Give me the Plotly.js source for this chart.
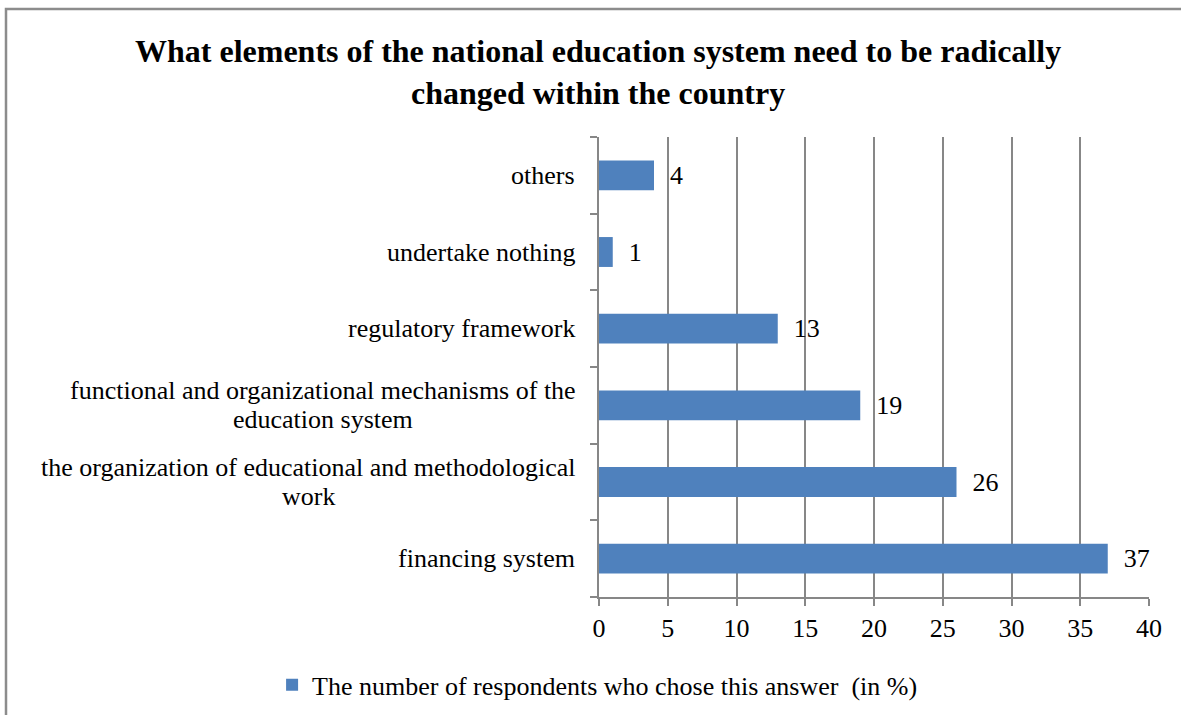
<!DOCTYPE html>
<html>
<head>
<meta charset="utf-8">
<script src="https://cdn.plot.ly/plotly-3.0.1.min.js"></script>
<style>html,body{margin:0;padding:0;background:#fff;}#chart{width:1181px;height:715px;}</style>
</head>
<body>
<div id="chart"></div>
<script>
const categories = [
  "financing system",
  "the organization of educational and methodological<br>work",
  "functional and organizational mechanisms of the<br>education system",
  "regulatory framework",
  "undertake nothing",
  "others"
];
const values = [37, 26, 19, 13, 1, 4];
const seriesName = "The number of respondents who chose this answer  (in %)";
const xTicks = [0, 5, 10, 15, 20, 25, 30, 35, 40];
const chartTitle = "What elements of the national education system need to be radically<br>changed within the country";

const FONT = "'Liberation Serif', 'Times New Roman', serif";
const GRID = "#878787";
const FS = 26;
const LINE = 29;

const trace = {
  type: "bar",
  orientation: "h",
  y: categories,
  x: values,
  name: seriesName,
  marker: {color: "#4f81bd"},
  text: values.map(v => "\u2002" + v),
  textposition: "outside",
  textfont: {family: FONT, size: FS, color: "#000"},
  cliponaxis: false,
  constraintext: "none",
  hoverinfo: "none",
  showlegend: true
};

const annotations = [];
categories.forEach(c => {
  const lines = c.split("<br>");
  lines.forEach((ln, i) => {
    annotations.push({
      xref: "paper", yref: "y", x: 0, y: c,
      xanchor: lines.length > 1 ? "center" : "right", yanchor: "middle",
      xshift: lines.length > 1 ? 0 : -22,
      yshift: ((lines.length - 1) / 2 - i) * LINE,
      text: ln, showarrow: false,
      font: {family: FONT, size: FS, color: "#000"}
    });
  });
});
const labelRight = -22;

const layout = {
  width: 1181, height: 715,
  margin: {l: 599, r: 32, t: 137, b: 118, pad: 0},
  paper_bgcolor: "#fff", plot_bgcolor: "#fff",
  title: {
    text: chartTitle,
    font: {family: FONT, size: 32, color: "#000", weight: "bold"},
    xref: "container", yref: "container",
    x: 0.5064, xanchor: "center", y: 1 - 62 / 715, yanchor: "middle"
  },
  bargap: 0.61,
  xaxis: {
    range: [0, 40], tickvals: xTicks, ticktext: xTicks.map(String),
    showgrid: true, gridcolor: GRID, gridwidth: 2,
    zeroline: false, showline: true, linecolor: GRID, linewidth: 2,
    ticks: "outside", ticklen: 7, tickcolor: GRID, tickwidth: 2,
    tickfont: {family: FONT, size: FS, color: "#000"},
    fixedrange: true
  },
  yaxis: {
    type: "category",
    showticklabels: false,
    showgrid: false, zeroline: false,
    showline: true, linecolor: GRID, linewidth: 2,
    ticks: "outside", tickson: "boundaries", ticklen: 7, tickcolor: GRID, tickwidth: 2,
    fixedrange: true
  },
  showlegend: true,
  legend: {
    orientation: "h", xref: "container", yref: "container",
    x: 0.506, xanchor: "center", y: 0.042, yanchor: "middle",
    font: {family: FONT, size: FS, color: "#000"},
    itemwidth: 30
  },
  annotations: annotations,
  shapes: [{
    type: "rect", xref: "paper", yref: "paper",
    x0: (6 - 599) / 550, x1: 2, y0: -1, y1: (597 - 9) / 460,
    line: {color: "#8c8c8c", width: 2.5}, fillcolor: "rgba(0,0,0,0)", layer: "above"
  }]
};

Plotly.newPlot("chart", [trace], layout, {displayModeBar: false, staticPlot: true}).then(gd => {
  const nodes = gd.querySelectorAll(".annotation");
  const widths = Array.from(nodes).map(n => n.getBBox ? n.getBBox().width : 0);
  const upd = {};
  let k = 0;
  categories.forEach(c => {
    const lines = c.split("<br>");
    if (lines.length > 1) {
      const w = Math.max(...lines.map((_, i) => widths[k + i]));
      lines.forEach((_, i) => { upd["annotations[" + (k + i) + "].xshift"] = labelRight - w / 2; });
    }
    k += lines.length;
  });
  return Plotly.relayout(gd, upd);
});
</script>
</body>
</html>
